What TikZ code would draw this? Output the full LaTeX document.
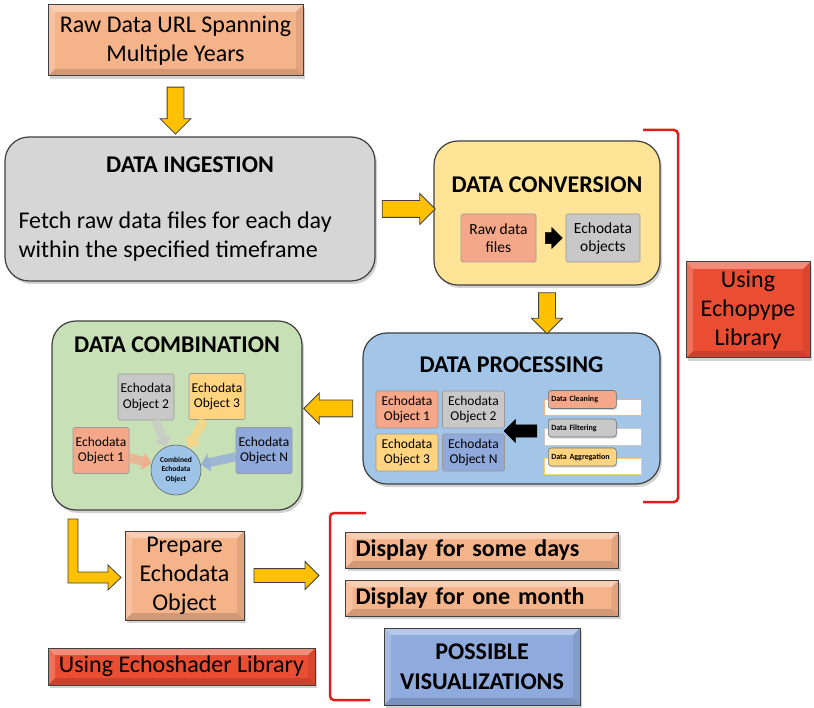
\documentclass[tikz,border=0pt]{standalone}
\usepackage{fontspec}
\setmainfont{Carlito}
\usetikzlibrary{shapes.arrows,shadows,arrows.meta,calc,positioning}
\definecolor{orng}{HTML}{F5B38A}
\definecolor{gry}{HTML}{D6D6D6}
\definecolor{ylw}{HTML}{FFE497}
\definecolor{blu}{HTML}{A3C5E8}
\definecolor{grn}{HTML}{C7E0B5}
\definecolor{rd}{HTML}{EB4D33}
\definecolor{salm}{HTML}{F5A889}
\definecolor{ltg}{HTML}{C8C8C8}
\definecolor{gold}{HTML}{FFD481}
\definecolor{dblu}{HTML}{8FA9DB}
\definecolor{arry}{HTML}{FFC000}
\definecolor{brk}{HTML}{E01B1B}
\definecolor{vis}{HTML}{8FAADC}
\definecolor{circ}{HTML}{9DC3E6}
\begin{document}
\begin{tikzpicture}[x=1pt,y=-1pt,
    box/.style={draw=black!75,line width=1pt,fill=#1,drop shadow={opacity=.35,shadow xshift=2pt,shadow yshift=-3pt}},
    bevel/.style={path picture={
      \fill[white,opacity=.35] (path picture bounding box.north west) -- (path picture bounding box.north east)
        -- ([shift={(-7pt,-7pt)}]path picture bounding box.north east) -- ([shift={(7pt,-7pt)}]path picture bounding box.north west) -- cycle;
      \fill[white,opacity=.2] (path picture bounding box.north west) -- (path picture bounding box.south west)
        -- ([shift={(7pt,7pt)}]path picture bounding box.south west) -- ([shift={(7pt,-7pt)}]path picture bounding box.north west) -- cycle;
      \fill[black,opacity=.08] (path picture bounding box.north east) -- (path picture bounding box.south east)
        -- ([shift={(-7pt,7pt)}]path picture bounding box.south east) -- ([shift={(-7pt,-7pt)}]path picture bounding box.north east) -- cycle;
      \fill[black,opacity=.14] (path picture bounding box.south west) -- (path picture bounding box.south east)
        -- ([shift={(-7pt,7pt)}]path picture bounding box.south east) -- ([shift={(7pt,7pt)}]path picture bounding box.south west) -- cycle;}},
    rbox/.style={box=#1,rounded corners=24pt,line width=1.2pt},
    obj/.style={draw=black!40,line width=.6pt,fill=#1,rounded corners=1.5pt,align=center,font=\fontsize{13.5}{15.5}\selectfont,minimum width=62pt,minimum height=37pt,inner sep=1pt},
    tag/.style={draw=black!55,line width=.6pt,fill=#1,rounded corners=3pt,font=\bfseries\fontsize{8}{9}\selectfont,anchor=west,minimum height=18pt,minimum width=68pt,inner sep=3pt,text width=62pt,drop shadow={opacity=.3,shadow xshift=1pt,shadow yshift=-1.5pt}},
    slot/.style={draw=#1,line width=1pt,fill=white,minimum width=97pt,minimum height=16pt,anchor=west},
    big/.style={font=\fontsize{24}{29}\selectfont},
    head/.style={font=\bfseries\fontsize{24}{30}\selectfont},
    yarr/.style={single arrow,draw=black!75,line width=.8pt,fill=arry,inner sep=8pt,single arrow head extend=7pt},
    barr/.style={single arrow,draw=black,fill=black,inner xsep=0pt,inner ysep=#1,single arrow head extend=.9*#1},
    fat/.style={line width=9pt,draw=#1,opacity=.75,-{Triangle[length=9pt,width=18pt]}}]
  \useasboundingbox (0,0) rectangle (814,708);

  \node[box=orng,bevel,big,align=center,minimum width=255pt,minimum height=71pt] (raw) at (175.5,40.5) {Raw Data URL Spanning\\Multiple Years};

  \node[rbox=gry,minimum width=370pt,minimum height=144pt] (ingest) at (190,209) {};
  \node[head] (ingtitle) at (190,165) {DATA INGESTION};
  \node[big,align=left,anchor=west] (ingtext) at (15,237) {Fetch raw data files for each day\\within the specified timeframe};

  \node[rbox=ylw,minimum width=226pt,minimum height=144pt] (conv) at (547,213) {};
  \node[head] (convtitle) at (547,185) {DATA CONVERSION};
  \node[obj=salm,font=\fontsize{15.5}{18}\selectfont,minimum width=75pt,minimum height=48pt] (rawf) at (498.5,238) {Raw data\\files};
  \node[obj=ltg,font=\fontsize{15.5}{18}\selectfont,minimum width=74pt,minimum height=48pt] (edobj) at (603,238) {Echodata\\objects};
  \node[barr=5.5pt,minimum height=17pt] (convarr) at ($(rawf.east)!.5!(edobj.west)$) {};

  \node[rbox=blu,minimum width=297pt,minimum height=151pt] (proc) at (511.5,408.5) {};
  \node[head] (proctitle) at (511.5,365) {DATA PROCESSING};
  \node[obj=salm] (p1) at (407,409.5) {Echodata\\Object 1};
  \node[obj=ltg] (p2) at (473.5,409.5) {Echodata\\Object 2};
  \node[obj=gold] (p3) at (407,452.5) {Echodata\\Object 3};
  \node[obj=dblu] (pn) at (473.5,452.5) {Echodata\\Object N};
  \node[slot=orng] (s1) at (544,408) {};
  \node[slot=ltg] (s2) at (544,437) {};
  \node[slot=gold!90!orange] (s3) at (544,466) {};
  \node[tag=salm] (clean) at (548,399.5) {Data Cleaning};
  \node[tag=ltg] (filter) at (548,428) {Data Filtering};
  \node[tag=gold] (aggr) at (548,457) {Data Aggregation};
  \node[barr=6pt,minimum height=33pt,shape border rotate=180] (procarr) at (523.5,431) {};

  \node[rbox=grn,minimum width=250pt,minimum height=189pt] (comb) at (177,415.5) {};
  \node[head] (combtitle) at (177,345) {DATA COMBINATION};
  \node[obj=ltg,minimum width=56pt,minimum height=46pt] (c2) at (146,397) {Echodata\\Object 2};
  \node[obj=gold,minimum width=56pt,minimum height=46pt] (c3) at (217,396.5) {Echodata\\Object 3};
  \node[obj=salm,minimum width=56pt,minimum height=46pt] (c1) at (101,450.5) {Echodata\\Object 1};
  \node[obj=dblu,minimum width=56pt,minimum height=46pt] (cn) at (264,450.5) {Echodata\\Object N};
  \node[circle,draw=black!60,line width=.6pt,fill=circ,minimum size=50pt,inner sep=0pt,align=center,font=\bfseries\fontsize{7.5}{9.5}\selectfont] (all) at (176,470) {Combined\\Echodata\\Object};
  \draw[fat=salm] (c1) -- (all);
  \draw[fat=ltg] (c2) -- (all);
  \draw[fat=gold] (c3) -- (all);
  \draw[fat=dblu] (cn) -- (all);

  \node[box=rd,bevel,big,align=center,minimum width=124pt,minimum height=96pt] (echopype) at (748,310) {Using\\Echopype\\Library};

  \node[box=orng,bevel,big,align=center,minimum width=119pt,minimum height=89pt] (prep) at (184.5,575.5) {Prepare\\Echodata\\Object};
  \node[box=orng,bevel,head,align=left,anchor=west,minimum width=273pt,minimum height=36pt,inner xsep=10pt,text width=253pt] (days) at (345,550) {Display for some days};
  \node[box=orng,bevel,head,align=left,anchor=west,minimum width=273pt,minimum height=36pt,inner xsep=10pt,text width=253pt] (month) at (345,598) {Display for one month};
  \node[box=vis,bevel,head,align=center,minimum width=196pt,minimum height=77pt] (visual) at (482,666.5) {POSSIBLE\\VISUALIZATIONS};
  \node[box=rd,bevel,big,minimum width=267pt,minimum height=37pt] (shader) at (181.5,666.5) {Using Echoshader Library};

  \node[yarr,minimum height=47pt,shape border rotate=270] (a1) at ($(raw.south)!.5!(raw.south |- ingest.north)$) {};
  \node[yarr,minimum height=53pt] (a2) at ($(ingest.east)!.5!(ingest.east -| conv.west)$) {};
  \node[yarr,minimum height=41pt,shape border rotate=270] (a3) at ($(conv.south)!.5!(conv.south |- proc.north)$) {};
  \node[yarr,minimum height=49pt,shape border rotate=180] (a4) at ($(proc.west)!.5!(proc.west -| comb.east)$) {};
  \node[yarr,minimum height=65pt,inner sep=6.5pt] (a5) at ($(prep.east)+(38.5,0)$) {};
  \draw[draw=black!75,line width=.8pt,fill=arry] (68,519) -- (78,519) -- (78,572) -- (108,572) -- (108,565) -- (121,577.5)
    -- (108,590) -- (108,583) -- (68,583) -- cycle;

  \draw[brk,line width=2.5pt,rounded corners=4pt] (643,130) -- (678,130) -- (678,502) -- (643,502);
  \draw[brk,line width=2.5pt,rounded corners=4pt] (366,513) -- (330,513) -- (330,700) -- (370,700);
\end{tikzpicture}
\end{document}
